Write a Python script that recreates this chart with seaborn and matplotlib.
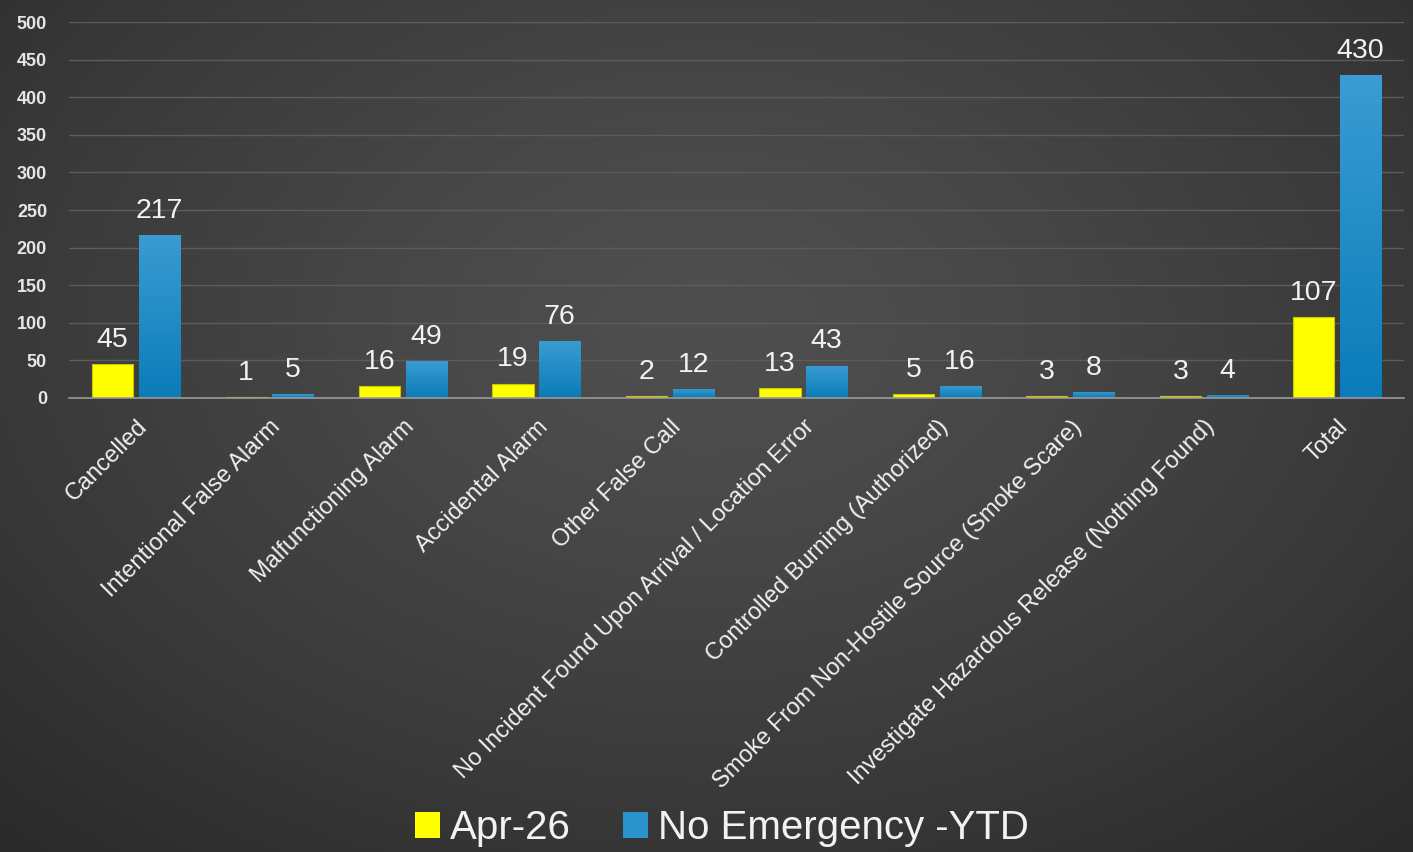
import numpy as np
import pandas as pd
import matplotlib
matplotlib.use("Agg")
import matplotlib.pyplot as plt
import seaborn as sns
from matplotlib.patches import Patch

categories = ["Cancelled", "Intentional False Alarm", "Malfunctioning Alarm",
              "Accidental Alarm", "Other False Call",
              "No Incident Found Upon Arrival / Location Error",
              "Controlled Burning (Authorized)",
              "Smoke From Non-Hostile Source (Smoke Scare)",
              "Investigate Hazardous Release (Nothing Found)", "Total"]
apr_values = [45, 1, 16, 19, 2, 13, 5, 3, 3, 107]
ytd_values = [217, 5, 49, 76, 12, 43, 16, 8, 4, 430]
series_names = ["Apr-26", "No Emergency -YTD"]
yticks = list(range(0, 501, 50))

df = pd.DataFrame({
    "category": categories * 2,
    "value": apr_values + ytd_values,
    "series": [series_names[0]] * len(categories) + [series_names[1]] * len(categories),
})

sns.set_theme(style="dark")
plt.rcParams['font.family'] = ['Liberation Sans', 'DejaVu Sans']

W, H = 1413, 852
fig = plt.figure(figsize=(W / 100, H / 100), dpi=100)

# radial gradient background
bg = fig.add_axes([0, 0, 1, 1], zorder=-10)
yy, xx = np.mgrid[0:H, 0:W]
cx, cy = W * 0.5, H * 0.38
r = np.sqrt(((xx - cx) / (W * 0.75)) ** 2 + ((yy - cy) / (H * 0.85)) ** 2)
r = np.clip(r, 0, 1)
c_in, c_out = 0.31, 0.16
vals = c_in + (c_out - c_in) * r ** 1.3
img = np.dstack([vals, vals, vals])
bg.imshow(img, aspect="auto", extent=[0, 1, 0, 1], origin="upper")
bg.axis("off")

ax = fig.add_axes([0.049, 0.533, 0.9446, 0.441])
ax.set_facecolor("none")

yellow = "#FFFF00"
blue = "#1E8CC6"
sns.barplot(data=df, x="category", y="value", hue="series",
            palette=[yellow, blue], width=0.70, gap=0.12, ax=ax,
            legend=False, saturation=1)

# gradient on blue bars
grad = np.linspace(0, 1, 256).reshape(-1, 1)
top_c = np.array([0x3A, 0x9C, 0xD2]) / 255
bot_c = np.array([0x0A, 0x7C, 0xB9]) / 255
gimg = top_c[None, None, :] * (1 - grad[:, :, None]) + bot_c[None, None, :] * grad[:, :, None]
for bar in ax.containers[1]:
    x0, y0 = bar.get_x(), bar.get_y()
    w, h = bar.get_width(), bar.get_height()
    bar.set_edgecolor("#1a5f85")
    bar.set_linewidth(0.8)
    im = ax.imshow(gimg, extent=[x0, x0 + w, y0, y0 + h], aspect="auto",
                   origin="upper", zorder=bar.get_zorder() + 0.1)
    im.set_clip_path(bar)
for bar in ax.containers[0]:
    bar.set_edgecolor("#c8c800")
    bar.set_linewidth(0.8)

ax.set_xlim(-0.5, len(categories) - 0.5)
ax.set_ylim(0, 500)

for cont in ax.containers:
    ax.bar_label(cont, padding=8, color="#f2f2f2", fontsize=20.5)

ax.set_yticks(yticks)
ax.set_yticklabels([str(t) for t in yticks], color="#e6e6e6", fontsize=13,
                   fontweight="bold")
ax.tick_params(axis="y", length=0, pad=16)
ax.tick_params(axis="x", length=0, pad=13)
ax.set_xticks(range(len(categories)))
ax.set_xticklabels(categories, rotation=45, ha="right", rotation_mode="anchor",
                   color="#f0f0f0", fontsize=17)
ax.set_xlabel("")
ax.set_ylabel("")
ax.grid(axis="y", color="#5c5c5c", linewidth=1)
ax.grid(axis="x", visible=False)
ax.set_axisbelow(True)
for s in ["left", "right", "top"]:
    ax.spines[s].set_visible(False)
ax.spines["bottom"].set_color("#9a9a9a")
ax.spines["bottom"].set_linewidth(1.2)

handles = [Patch(facecolor=yellow, edgecolor="none"),
           Patch(facecolor="#2a93cc", edgecolor="none")]
fig.legend(handles, series_names, loc="center", bbox_to_anchor=(0.511, 0.028),
           ncol=2, frameon=False, fontsize=29, labelcolor="#f2f2f2",
           handlelength=0.62, handleheight=0.62, handletextpad=0.25,
           columnspacing=1.3)

fig.savefig("out.png", dpi=100)
